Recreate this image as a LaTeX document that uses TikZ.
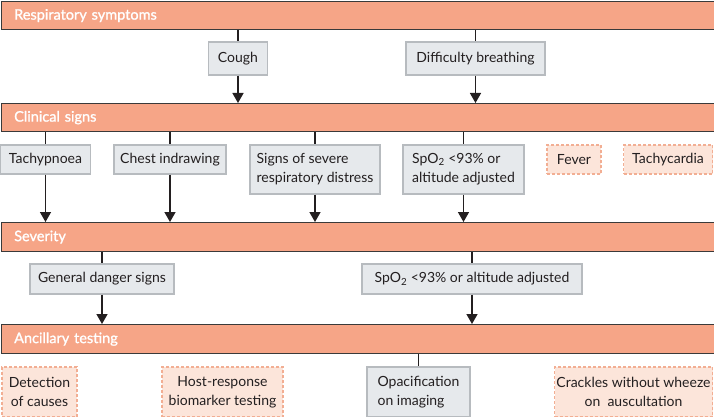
\documentclass[tikz,border=0pt]{standalone}
\usepackage{fontspec}
\setmainfont{Lato}
\newfontfamily\titlefont[FakeBold=1.2]{Lato}
\usetikzlibrary{arrows.meta}
\definecolor{barfill}{HTML}{F6A587}
\definecolor{barline}{HTML}{3A3A3A}
\definecolor{greyfill}{HTML}{E6E9EC}
\definecolor{greyline}{HTML}{B7BBBF}
\definecolor{pinkfill}{HTML}{FCE5DA}
\definecolor{pinkline}{HTML}{F2AE93}
\definecolor{ink}{HTML}{231F20}
\tikzset{
  bar/.style={draw=barline, line width=1.2pt, fill=barfill, text=white, anchor=north west,
    text width=687pt, inner xsep=13pt, inner ysep=0pt, minimum height=28pt, align=left,
    font=\titlefont\fontsize{14.5}{17}\selectfont},
  gbox/.style={draw=greyline, line width=1.2pt, fill=greyfill, text=ink, inner sep=0pt,
    align=center, font=\fontsize{14}{19}\selectfont},
  pbox/.style={gbox, draw=pinkline, fill=pinkfill, line width=1.5pt, dash pattern=on 3pt off 2pt},
  link/.style={draw=ink, line width=1.4pt},
  arr/.style={link, -{Triangle[width=11pt,length=10pt]}}
}
\begin{document}
\begin{tikzpicture}[x=1pt,y=-1pt]
\useasboundingbox (0,0) rectangle (714,417);
% bars
\node[bar, minimum height=28pt] (rs) at (0.6,1) {Respiratory symptoms};
\node[bar, minimum height=28pt] (cs) at (0.6,103) {Clinical signs};
\node[bar, minimum height=29pt] (sv) at (0.6,222) {Severity};
\node[bar, minimum height=29pt] (at) at (0.6,324) {Ancillary testing};
% level 1
\node[gbox, minimum width=59pt, minimum height=33pt] (cough) at (238,58.5) {Cough};
\node[gbox, minimum width=139pt, minimum height=33pt] (diff) at (475.5,58.5) {Difficulty breathing};
% level 2
\node[gbox, minimum width=90pt, minimum height=29pt] (tach) at (45.5,159.5) {Tachypnoea};
\node[gbox, minimum width=112pt, minimum height=29pt] (chest) at (170,159.5) {Chest indrawing};
\node[gbox, minimum width=130pt, minimum height=49pt, align=left] (sev) at (315,169.5) {Signs of severe\\respiratory distress};
\node[gbox, minimum width=121pt, minimum height=49pt, align=left] (spo) at (463.5,169.5) {SpO\textsubscript{2} <93\% or\\altitude adjusted};
\node[pbox, minimum width=54pt, minimum height=29pt] (fever) at (574,159.5) {Fever};
\node[pbox, minimum width=89pt, minimum height=29pt] (tcard) at (668,159.5) {Tachycardia};
% level 3
\node[gbox, minimum width=144pt, minimum height=30pt] (gds) at (102,279) {General danger signs};
\node[gbox, minimum width=220pt, minimum height=30pt] (spo2) at (472,279) {SpO\textsubscript{2} <93\% or altitude adjusted};
% level 4
\node[pbox, minimum width=75pt, minimum height=50pt] (det) at (39.5,392) {Detection\\of causes};
\node[pbox, minimum width=121pt, minimum height=50pt] (host) at (222.5,392) {Host-response\\biomarker testing};
\node[gbox, minimum width=103pt, minimum height=50pt, align=left] (opac) at (418.5,392) {Opacification\\on imaging};
\node[pbox, minimum width=158pt, minimum height=50pt] (crack) at (633.5,392) {Crackles without wheeze\\on\ \ auscultation};
% connectors
\draw[link] (cough.north |- rs.south) -- (cough.north);
\draw[arr] (cough.south) -- (cough.south |- cs.north);
\draw[link] (diff.north |- rs.south) -- (diff.north);
\draw[arr] (diff.south) -- (diff.south |- cs.north);
\draw[link] (tach.north |- cs.south) -- (tach.north);
\draw[arr] (tach.south) -- (tach.south |- sv.north);
\draw[link] (chest.north |- cs.south) -- (chest.north);
\draw[arr] (chest.south) -- (chest.south |- sv.north);
\draw[link] (sev.north |- cs.south) -- (sev.north);
\draw[arr] (sev.south) -- (sev.south |- sv.north);
\draw[link] (spo.north |- cs.south) -- (spo.north);
\draw[arr] (spo.south) -- (spo.south |- sv.north);
\draw[link] (gds.north |- sv.south) -- (gds.north);
\draw[arr] (gds.south) -- (gds.south |- at.north);
\draw[link] (spo2.north |- sv.south) -- (spo2.north);
\draw[arr] (spo2.south) -- (spo2.south |- at.north);
\draw[link] (opac.north |- at.south) -- (opac.north);
\end{tikzpicture}
\end{document}
